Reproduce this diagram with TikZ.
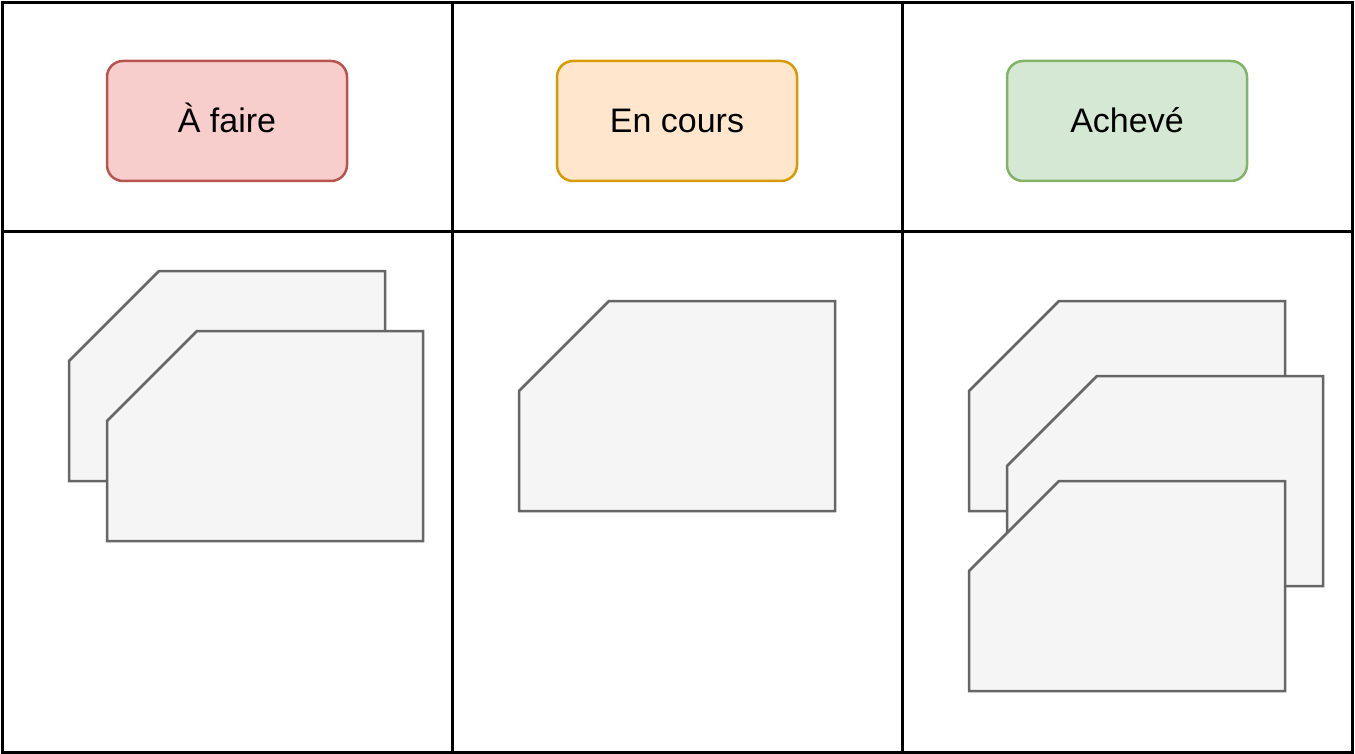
\documentclass[tikz,border=0pt]{standalone}
\usepackage{fontspec}
\setmainfont{Liberation Sans}
\definecolor{todofill}{HTML}{F8CECC}
\definecolor{todoline}{HTML}{B85450}
\definecolor{doingfill}{HTML}{FFE6CC}
\definecolor{doingline}{HTML}{D79B00}
\definecolor{donefill}{HTML}{D5E8D4}
\definecolor{doneline}{HTML}{82B366}
\definecolor{cardfill}{HTML}{F5F5F5}
\definecolor{cardline}{HTML}{666666}
\tikzset{
  header/.style={rectangle,rounded corners=16pt,line width=2.5pt,
    minimum width=240pt,minimum height=120pt,
    text height=24pt,text depth=0pt,
    font=\fontsize{34}{40}\selectfont},
  todo/.style={header,fill=todofill,draw=todoline},
  doing/.style={header,fill=doingfill,draw=doingline},
  done/.style={header,fill=donefill,draw=doneline},
  card/.style={fill=cardfill,draw=cardline,line width=2.5pt},
  grid/.style={line width=3pt},
}
% a card with its top left corner cut off
\newcommand\kcard[2]{%
  \draw [card] (#1,#2+90) -- (#1+90,#2) -- (#1+316,#2)
    -- (#1+316,#2+210) -- (#1,#2+210) -- cycle;}

\begin{document}
\begin{tikzpicture}[x=1pt,y=-1pt]
      \useasboundingbox (0,0) rectangle (1355,754);
      % board
      \draw [grid] (2.5,2.5) rectangle (1352,752);
      \draw [grid] (452,2) -- (452,752);
      \draw [grid] (902,2) -- (902,752);
      \draw [grid] (2,232) -- (1352,232);
      % column titles
      \node [todo] (todo) at (227,121) {À faire};
      \node [doing] (doing) at (677,121) {En cours};
      \node [done] (done) at (1127,121) {Achevé};
      % cards
      \kcard{69}{271}
      \kcard{107}{331}
      \kcard{519}{301}
      \kcard{969}{301}
      \kcard{1007}{376}
      \kcard{969}{481}
    \end{tikzpicture}
\end{document}
